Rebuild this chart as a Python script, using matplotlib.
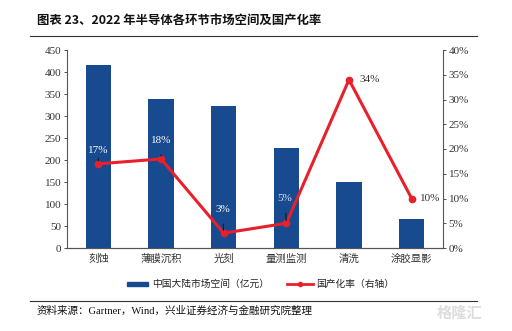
import matplotlib.pyplot as plt
import numpy as np

plt.rcParams['font.family'] = ['Liberation Serif', 'Noto Sans CJK SC', 'DejaVu Sans']

categories = ['刻蚀', '薄膜沉积', '光刻', '量测监测', '清洗', '涂胶显影']
market_size = [417, 338, 322, 228, 149, 67]   # 亿元
local_rate = [17, 18, 3, 5, 34, 10]           # %

bar_color = '#174a8f'
line_color = '#e8202a'
cjk = ['Noto Sans CJK SC', 'DejaVu Sans']

fig = plt.figure(figsize=(5.12, 3.31), dpi=100)
ax = fig.add_axes([67 / 512, 1 - 248 / 331, 376 / 512, 198 / 331])
ax2 = ax.twinx()

x = np.arange(len(categories))
ax.bar(x, market_size, width=0.4, color=bar_color, zorder=2)
ax.set_ylim(0, 450)
ax.set_yticks(range(0, 451, 50))
ax.set_xlim(-0.5, len(categories) - 0.5)
ax.set_xticks(x)
ax.set_xticklabels(categories, fontfamily=cjk, fontsize=7.5)

ax2.plot(x, local_rate, color=line_color, lw=2.2, marker='o', ms=4.5, zorder=3)
ax2.set_ylim(0, 40)
ax2.set_yticks(range(0, 41, 5))
ax2.set_yticklabels([f'{v}%' for v in range(0, 41, 5)])

for a in (ax, ax2):
    a.spines['top'].set_visible(False)
    a.tick_params(labelsize=8, length=2, width=0.6, colors='#333333', pad=2)
    for s in a.spines.values():
        s.set_color('#555555')
        s.set_linewidth(0.8)
ax.tick_params(axis='x', length=0, pad=4, labelsize=7.5)
ax2.spines['left'].set_visible(False)
ax.spines['right'].set_visible(False)

# rate labels: white ones sit inside the bars with a short leader line
offsets = [(0, 2.6), (0, 3.7), (-0.02, 4.7), (-0.02, 4.9), (0.33, 0), (0.29, 0)]
label_colors = ['white', 'white', 'white', '#dde6f5', '#333333', '#333333']
for i, v in enumerate(local_rate):
    dx, dy = offsets[i]
    inside = i < 4
    ax2.annotate(f'{v}%', xy=(i, v), xytext=(i + dx, v + dy),
                 ha='center', va='center', fontsize=8, color=label_colors[i],
                 arrowprops=dict(arrowstyle='-', color='#111111', lw=0.7,
                                 shrinkA=5, shrinkB=2) if inside else None,
                 zorder=4)

# legend
fig.patches.append(plt.Rectangle((127 / 512, 1 - 285.5 / 331), 21 / 512, 4 / 331,
                                 transform=fig.transFigure, color=bar_color))
fig.text(152 / 512, 1 - 283.5 / 331, '中国大陆市场空间（亿元）', fontfamily=cjk,
         fontsize=7, va='center', color='#222222')
fig.add_artist(plt.Line2D([287 / 512, 300 / 512, 313 / 512], [1 - 283.5 / 331] * 3,
                          color=line_color, lw=2, marker='o', ms=3, markevery=[1]))
fig.text(316 / 512, 1 - 283.5 / 331, '国产化率（右轴）', fontfamily=cjk,
         fontsize=7, va='center', color='#222222')

# title and source
fig.text(37 / 512, 1 - 20 / 331, '图表 23、2022 年半导体各环节市场空间及国产化率', fontfamily=cjk,
         fontsize=8.9, fontweight='bold', va='center', color='#111111')
fig.add_artist(plt.Line2D([30 / 512, 477 / 512], [1 - 36 / 331] * 2, color='#333333', lw=0.8))
fig.add_artist(plt.Line2D([30 / 512, 477 / 512], [1 - 301 / 331] * 2, color='#333333', lw=0.8))
fig.text(37 / 512, 1 - 311 / 331, '资料来源：Gartner，Wind，兴业证券经济与金融研究院整理',
         fontsize=7.6, va='center', color='#111111')
fig.text(437 / 512, 1 - 313 / 331, '格隆汇', fontfamily=cjk, fontsize=11,
         fontweight='bold', va='center', color='#dddddd')

fig.savefig('out.png', dpi=100)
